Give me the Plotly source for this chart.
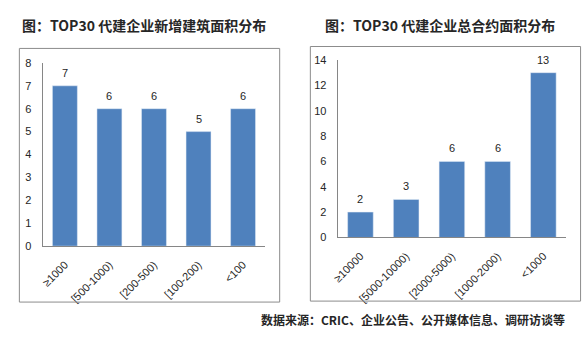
import plotly.graph_objects as go

# ---- data ----
left_title = "图：TOP30 代建企业新增建筑面积分布"
left_categories = ["≥1000", "[500-1000)", "[200-500)", "[100-200)", "<100"]
left_values = [7, 6, 6, 5, 6]

right_title = "图：TOP30 代建企业总合约面积分布"
right_categories = ["≥10000", "[5000-10000)", "[2000-5000)", "[1000-2000)", "<1000"]
right_values = [2, 3, 6, 6, 13]

source_text = "数据来源：CRIC、企业公告、公开媒体信息、调研访谈等"

W, H = 587, 337
BAR = "#4F81BD"
AX = "#868686"
TICKFONT = dict(family="Liberation Sans, Arial, sans-serif", size=11, color="#262626")
CJK = "Noto Sans CJK SC, sans-serif"

def px(x):
    return x / W

def py(y):
    return (H - y) / H

fig = go.Figure()
fig.add_trace(go.Bar(x=left_categories, y=left_values, marker_color=BAR,
                     xaxis="x", yaxis="y", showlegend=False, hoverinfo="skip"))
fig.add_trace(go.Bar(x=right_categories, y=right_values, marker_color=BAR,
                     xaxis="x2", yaxis="y2", showlegend=False, hoverinfo="skip"))

annotations = []
for cats, vals, xa, ya in [(left_categories, left_values, "x", "y"),
                           (right_categories, right_values, "x2", "y2")]:
    for c, v in zip(cats, vals):
        annotations.append(dict(x=c, y=v, xref=xa, yref=ya, text=str(v),
                                showarrow=False, yanchor="bottom", yshift=5,
                                font=TICKFONT))

annotations += [
    dict(x=px(14), y=py(20), xref="paper", yref="paper", xanchor="left", yanchor="middle",
         text="<b>" + left_title + "</b>", showarrow=False,
         font=dict(family=CJK, size=14, color="#262626")),
    dict(x=px(320), y=py(20), xref="paper", yref="paper", xanchor="left", yanchor="middle",
         text="<b>" + right_title + "</b>", showarrow=False,
         font=dict(family=CJK, size=14, color="#262626")),
    dict(x=px(567), y=py(325), xref="paper", yref="paper", xanchor="right", yanchor="middle",
         text="<b>" + source_text + "</b>", showarrow=False,
         font=dict(family=CJK, size=12, color="#262626")),
]

shapes = [
    dict(type="rect", xref="paper", yref="paper", x0=px(13.5), x1=px(276.5),
         y0=py(307), y1=py(44), line=dict(color="#8C8C8C", width=1)),
    dict(type="rect", xref="paper", yref="paper", x0=px(307.5), x1=px(580.5),
         y0=py(306), y1=py(42), line=dict(color="#8C8C8C", width=1)),
]

common_x = dict(showgrid=False, zeroline=False, showline=True, linecolor=AX, linewidth=1,
                tickangle=-45, tickfont=TICKFONT, ticks="", ticklabelstandoff=7,
                fixedrange=True)
common_y = dict(showgrid=False, zeroline=False, showline=True, linecolor=AX, linewidth=1,
                tickfont=TICKFONT, ticks="", ticklabelstandoff=8, fixedrange=True)

fig.update_layout(
    width=W, height=H,
    margin=dict(l=0, r=0, t=0, b=0),
    paper_bgcolor="white", plot_bgcolor="white",
    bargap=0.44,
    xaxis=dict(domain=[px(37), px(262)], anchor="y", **common_x),
    yaxis=dict(domain=[py(249), py(59)], anchor="x", range=[0, 8], dtick=1, **common_y),
    xaxis2=dict(domain=[px(335), px(566)], anchor="y2", **common_x),
    yaxis2=dict(domain=[py(240), py(56)], anchor="x2", range=[0, 14], dtick=2, **common_y),
    annotations=annotations,
    shapes=shapes,
)

fig.write_html("out.html")
